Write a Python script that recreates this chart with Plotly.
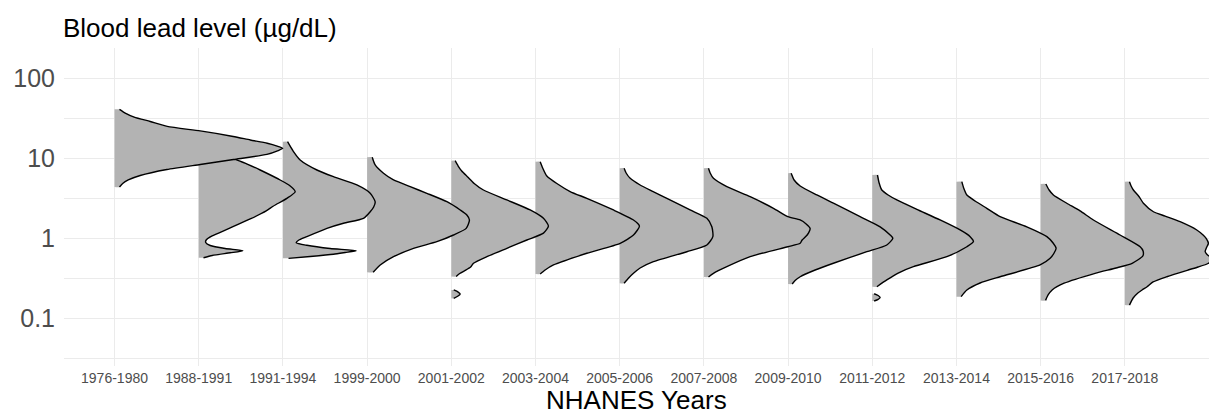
import plotly.graph_objects as go

categories = ["1976-1980", "1988-1991", "1991-1994", "1999-2000", "2001-2002",
              "2003-2004", "2005-2006", "2007-2008", "2009-2010", "2011-2012",
              "2013-2014", "2015-2016", "2017-2018"]

# Blood lead level (ug/dL) along each density outline, top to bottom,
# and the half-violin width (in category units) at that level.
lead_1976_1980 = [40.6, 36.5, 32.5, 28.6, 24.8, 21.8, 18.6, 16.8, 15.3, 14.1, 13.2,
                  12.4, 11.1, 9.57, 8.30, 7.18, 6.04, 5.31, 4.80, 4.34]
dens_1976_1980 = [0.059, 0.127, 0.234, 0.424, 0.626, 1.018, 1.41, 1.612, 1.814, 1.932, 1.998,
                  1.944, 1.81, 1.413, 1.018, 0.622, 0.305, 0.163, 0.097, 0.059]

lead_1988_1991 = [15.8, 12.6, 9.91, 8.41, 7.08, 5.31, 4.47, 3.79, 3.13, 2.51, 2.18, 1.73,
                  1.28, 1.06, 0.944, 0.879, 0.806, 0.739, 0.694, 0.653, 0.604, 0.567]
dens_1988_1991 = [0.16, 0.279, 0.413, 0.576, 0.730, 0.968, 1.087, 1.146, 1.047, 0.888, 0.802, 0.612,
                  0.335, 0.160, 0.089, 0.083, 0.137, 0.315, 0.525, 0.374, 0.160, 0.057]

lead_1991_1994 = [16.0, 12.2, 9.44, 7.08, 5.84, 4.60, 3.62, 2.84, 2.44, 2.13, 1.76, 1.53,
                  1.32, 1.04, 0.931, 0.873, 0.811, 0.739, 0.694, 0.659, 0.626, 0.587, 0.557]
dens_1991_1994 = [0.055, 0.122, 0.205, 0.404, 0.601, 0.879, 1.037, 1.096, 1.078, 1.037, 0.957, 0.720,
                  0.523, 0.285, 0.182, 0.158, 0.285, 0.562, 0.871, 0.740, 0.601, 0.324, 0.067]

lead_1999_2000 = [10.2, 8.18, 6.44, 5.31, 4.38, 3.62, 2.84, 2.24, 1.94, 1.68, 1.32, 1.09,
                  0.899, 0.743, 0.584, 0.460, 0.373]
dens_1999_2000 = [0.061, 0.096, 0.195, 0.314, 0.512, 0.710, 0.948, 1.106, 1.185, 1.216, 1.177, 1.026,
                  0.829, 0.551, 0.314, 0.156, 0.072]

lead_2001_2002 = [9.25, 7.94, 6.88, 5.79, 4.80, 3.98, 2.99, 2.24, 1.76, 1.41, 1.15, 0.944,
                  0.743, 0.584, 0.483, 0.434, 0.393, 0.360, 0.330]
dens_2001_2002 = [0.046, 0.082, 0.124, 0.195, 0.272, 0.382, 0.660, 0.937, 1.095, 1.154, 1.095, 0.898,
                  0.660, 0.423, 0.264, 0.230, 0.165, 0.100, 0.058]
lead_2001_2002_low = [0.224, 0.211, 0.200, 0.187, 0.176]
dens_2001_2002_low = [0.029, 0.082, 0.106, 0.076, 0.029]

lead_2003_2004 = [8.99, 7.50, 5.96, 4.80, 3.81, 3.13, 2.24, 1.68, 1.41, 1.09, 0.859, 0.644,
                  0.460, 0.398, 0.355]
dens_2003_2004 = [0.056, 0.086, 0.135, 0.254, 0.412, 0.610, 0.926, 1.164, 1.235, 1.164, 1.006, 0.610,
                  0.214, 0.115, 0.056]

lead_2005_2006 = [7.43, 6.49, 5.57, 4.60, 3.81, 3.13, 2.24, 1.76, 1.38, 1.04, 0.818, 0.674,
                  0.506, 0.422, 0.362, 0.312, 0.272]
dens_2005_2006 = [0.053, 0.077, 0.125, 0.243, 0.398, 0.561, 0.837, 1.036, 1.095, 1.107, 1.036, 0.798,
                  0.401, 0.243, 0.164, 0.101, 0.053]

lead_2007_2008 = [7.43, 6.49, 5.57, 4.38, 3.28, 2.35, 1.85, 1.68, 1.50, 1.32, 1.09, 0.944,
                  0.859, 0.778, 0.584, 0.438, 0.362, 0.325]
dens_2007_2008 = [0.055, 0.075, 0.114, 0.273, 0.550, 0.827, 0.998, 1.144, 1.215, 1.262, 1.227, 1.167,
                  1.144, 0.998, 0.550, 0.273, 0.114, 0.055]

lead_2009_2010 = [6.44, 5.31, 4.47, 3.45, 2.72, 1.85, 1.38, 1.09, 0.991, 0.818, 0.674, 0.483,
                  0.398, 0.328, 0.294, 0.266]
dens_2009_2010 = [0.037, 0.072, 0.144, 0.342, 0.539, 0.856, 1.094, 1.213, 1.245, 1.173, 0.936, 0.539,
                  0.322, 0.144, 0.084, 0.049]

lead_2011_2012 = [6.13, 4.87, 3.98, 3.45, 2.99, 2.28, 1.68, 1.26, 1.04, 0.899, 0.778, 0.584,
                  0.438, 0.365, 0.299, 0.246]
dens_2011_2012 = [0.062, 0.082, 0.114, 0.189, 0.292, 0.530, 0.806, 1.044, 1.163, 1.202, 1.124, 0.886,
                  0.489, 0.308, 0.173, 0.055]
lead_2011_2012_low = [0.201, 0.191, 0.180, 0.171, 0.163]
dens_2011_2012_low = [0.023, 0.070, 0.094, 0.070, 0.023]

lead_2013_2014 = [5.06, 4.22, 3.45, 2.90, 2.35, 1.85, 1.38, 1.04, 0.866, 0.743, 0.649, 0.557,
                  0.460, 0.328, 0.274, 0.224, 0.185]
dens_2013_2014 = [0.064, 0.086, 0.124, 0.222, 0.361, 0.519, 0.836, 1.074, 1.148, 1.184, 1.160, 1.113,
                  0.994, 0.519, 0.281, 0.124, 0.056]

lead_2015_2016 = [4.73, 3.98, 3.45, 2.72, 2.18, 1.68, 1.09, 0.778, 0.688, 0.596, 0.483, 0.422,
                  0.362, 0.272, 0.224, 0.194, 0.166]
dens_2015_2016 = [0.062, 0.101, 0.152, 0.311, 0.469, 0.627, 0.944, 1.182, 1.217, 1.214, 1.087, 0.897,
                  0.647, 0.279, 0.137, 0.089, 0.059]

lead_2017_2018 = [5.06, 4.47, 3.98, 3.28, 2.72, 2.13, 1.88, 1.60, 1.26, 1.09, 0.991, 0.859,
                  0.761, 0.678, 0.622, 0.579, 0.531, 0.480, 0.434, 0.398, 0.328, 0.282,
                  0.246, 0.224, 0.204, 0.178, 0.145]
dens_2017_2018 = [0.055, 0.075, 0.102, 0.170, 0.221, 0.340, 0.479, 0.657, 0.855, 0.930, 0.966, 0.993,
                  0.971, 0.954, 0.977, 1.013, 1.037, 0.988, 0.871, 0.752, 0.499, 0.336,
                  0.265, 0.205, 0.152, 0.099, 0.055]

parts = [
    [(lead_1976_1980, dens_1976_1980)],
    [(lead_1988_1991, dens_1988_1991)],
    [(lead_1991_1994, dens_1991_1994)],
    [(lead_1999_2000, dens_1999_2000)],
    [(lead_2001_2002, dens_2001_2002), (lead_2001_2002_low, dens_2001_2002_low)],
    [(lead_2003_2004, dens_2003_2004)],
    [(lead_2005_2006, dens_2005_2006)],
    [(lead_2007_2008, dens_2007_2008)],
    [(lead_2009_2010, dens_2009_2010)],
    [(lead_2011_2012, dens_2011_2012), (lead_2011_2012_low, dens_2011_2012_low)],
    [(lead_2013_2014, dens_2013_2014)],
    [(lead_2015_2016, dens_2015_2016)],
    [(lead_2017_2018, dens_2017_2018)],
]

FONT = "Liberation Sans, Arial, Helvetica, sans-serif"
fig = go.Figure()

# later categories drawn first so earlier ones sit on top
for i in reversed(range(len(categories))):
    for lead, dens in parts[i]:
        xs_curve = [i + d for d in dens]
        fig.add_trace(go.Scatter(
            x=[i] + xs_curve + [i], y=[lead[0]] + lead + [lead[-1]],
            mode="lines", fill="toself", fillcolor="#b3b3b3",
            line=dict(width=0, color="rgba(0,0,0,0)", shape="spline", smoothing=0.6),
            hoverinfo="skip", showlegend=False))
        fig.add_trace(go.Scatter(
            x=xs_curve, y=lead, mode="lines",
            line=dict(width=1.4, color="black", shape="spline", smoothing=0.6),
            hoverinfo="skip", showlegend=False))

fig.update_layout(
    width=1209, height=413,
    margin=dict(l=64, r=0, t=48, b=47),
    plot_bgcolor="white", paper_bgcolor="white",
    font=dict(family=FONT),
    showlegend=False,
    xaxis=dict(
        range=[-0.6, 13.0], tickmode="array", tickvals=list(range(len(categories))),
        ticktext=categories, showgrid=True, gridcolor="#ebebeb", gridwidth=1.1,
        zeroline=False, showline=False, ticks="", ticklabelstandoff=2,
        tickfont=dict(size=14, color="#4d4d4d", family=FONT),
    ),
    yaxis=dict(
        type="log", range=[-1.6, 2.375], tickmode="array",
        tickvals=[0.1, 1, 10, 100], ticktext=["0.1", "1", "10", "100"],
        showgrid=True, gridcolor="#ebebeb", gridwidth=1.1,
        zeroline=False, showline=False, ticks="", ticklabelstandoff=8,
        tickfont=dict(size=25, color="#4d4d4d", family=FONT),
        minor=dict(tickmode="array", tickvals=[0.0316, 0.316, 3.16, 31.6],
                   showgrid=True, gridcolor="#ebebeb", gridwidth=1.1, ticks=""),
    ),
    annotations=[
        dict(text="Blood lead level (µg/dL)", xref="paper", yref="paper",
             x=0, xshift=-3, y=1.064, xanchor="left", yanchor="middle",
             showarrow=False, font=dict(size=26, color="black", family=FONT)),
        dict(text="NHANES Years", xref="paper", yref="paper",
             x=0.5, y=-0.106, xanchor="center", yanchor="middle",
             showarrow=False, font=dict(size=26, color="black", family=FONT)),
    ],
)

fig.write_html(
    "out.html",
    config={"displayModeBar": False},
    post_script="document.body.style.margin='0';document.body.style.overflow='hidden';",
)
